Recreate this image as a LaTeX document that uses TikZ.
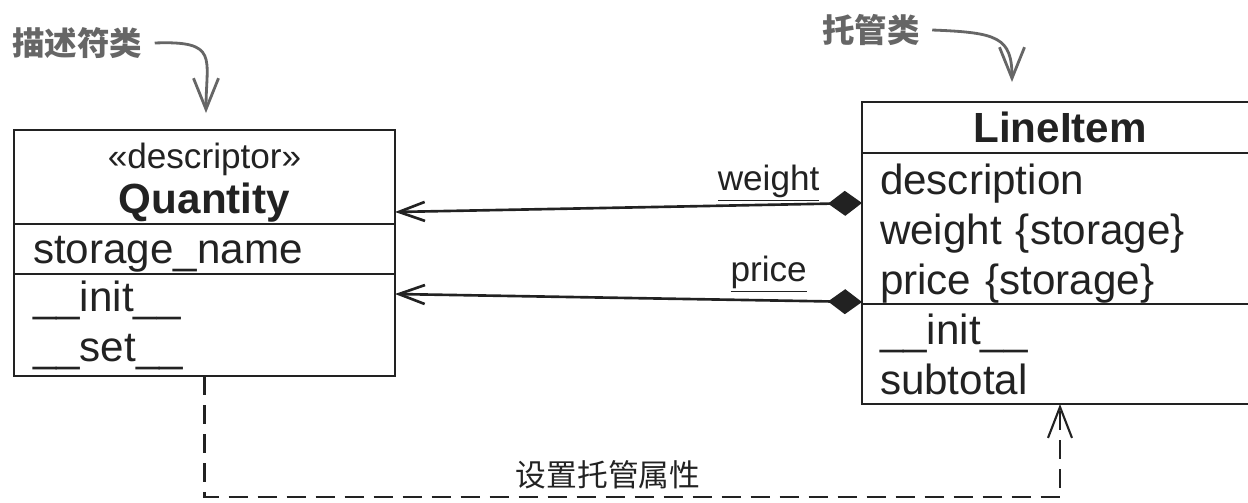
\documentclass[tikz,border=0pt]{standalone}
\usepackage{fontspec}
\setmainfont{Liberation Sans}
\newfontfamily\cjk{Noto Sans CJK SC}
\usetikzlibrary{arrows.meta,positioning,calc}
\definecolor{umlline}{HTML}{222222}
\definecolor{annogray}{HTML}{666666}

\begin{document}
\begin{tikzpicture}[
part/.style={draw=umlline, line width=1.6pt, rectangle, inner xsep=0.38cm, inner ysep=0pt,
              outer sep=0pt, text=umlline, font=\fontsize{24}{28.5}\selectfont},
qpart/.style={part, minimum width=7.62cm, text width=6.86cm},
lpart/.style={part, inner xsep=0.36cm, minimum width=7.92cm, text width=7.2cm},
comp/.style={{Diamond[length=0.68cm,width=0.5cm]}-{Straight Barb[length=0.52cm,width=0.38cm]},
              draw=umlline, line width=1.5pt},
dep/.style={-{Straight Barb[length=0.62cm,width=0.48cm]}, draw=umlline, line width=1.2pt,
              dash pattern=on 0.38cm off 0.2cm},
lbl/.style={font=\fontsize{20}{24}\selectfont, text=umlline, inner sep=2pt},
anno/.style={font=\cjk\bfseries\fontsize{18.5}{20}\selectfont, text=annogray, inner sep=0pt},
annoarr/.style={-{Straight Barb[length=0.62cm,width=0.5cm]}, draw=annogray, line width=1.6pt},
]
\useasboundingbox (0,0) rectangle (24.96,-10.04);

% descriptor class
\node[qpart, align=center, minimum height=1.88cm, anchor=north, text height=21pt,
  font=\fontsize{24}{25.5}\selectfont]
  (qname) at (4.09,-2.6) {{\fontsize{20}{24}\selectfont «descriptor»}\\ \textbf{Quantity}};
\node[qpart, align=left, minimum height=1.0cm, text height=21.5pt, below=0cm of qname] (qattr) {storage\_name};
\node[qpart, align=left, minimum height=2.04cm, below=0cm of qattr] (qops) {\_\_init\_\_\\ \_\_set\_\_};

% managed class
\node[lpart, align=center, minimum height=1.02cm, anchor=north] (lname) at (21.2,-2.04) {\textbf{LineItem}};
\node[lpart, align=left, minimum height=3.02cm, text height=23pt, below=0cm of lname] (lattr)
  {description\\ weight \{storage\}\\ price \{storage\}};
\node[lpart, align=left, minimum height=2.0cm, below=0cm of lattr] (lops) {\_\_init\_\_\\ subtotal};

% storage attributes
\draw[comp] ([yshift=0.51cm]lattr.west) -- ([yshift=-0.7cm]qname.east)
  node[pos=0.2, above=-1pt, lbl] (wlbl) {\underline{weight}};
\draw[comp] ([yshift=0.04cm]lattr.south west) -- ([yshift=-0.4cm]qops.north east)
  node[pos=0.2, above=2pt, lbl] (plbl) {\underline{price}};

% sets managed attribute
\draw[dep] (qops.south) -- ++(0,-2.42) -| (lops.south);
\node[font=\cjk\fontsize{17.5}{20}\selectfont, text=umlline, inner sep=0pt] (setlbl) at (12.16,-9.5) {设置托管属性};

% annotations
\node[anno, anchor=west] (desclbl) at (0.24,-0.86) {描述符类};
\coordinate (qtip) at ([xshift=0.03cm,yshift=0.34cm]qname.north);
\draw[annoarr] ([xshift=0.24cm]desclbl.east) .. controls +(1.3,0.05) and +(0,1.1) .. (qtip);

\node[anno, anchor=west] (hostlbl) at (16.44,-0.6) {托管类};
\coordinate (ltip) at ([xshift=-0.96cm,yshift=0.4cm]lname.north);
\draw[annoarr] ([xshift=0.24cm]hostlbl.east) .. controls +(1.3,-0.05) and +(0,0.9) .. (ltip);
\end{tikzpicture}
\end{document}
